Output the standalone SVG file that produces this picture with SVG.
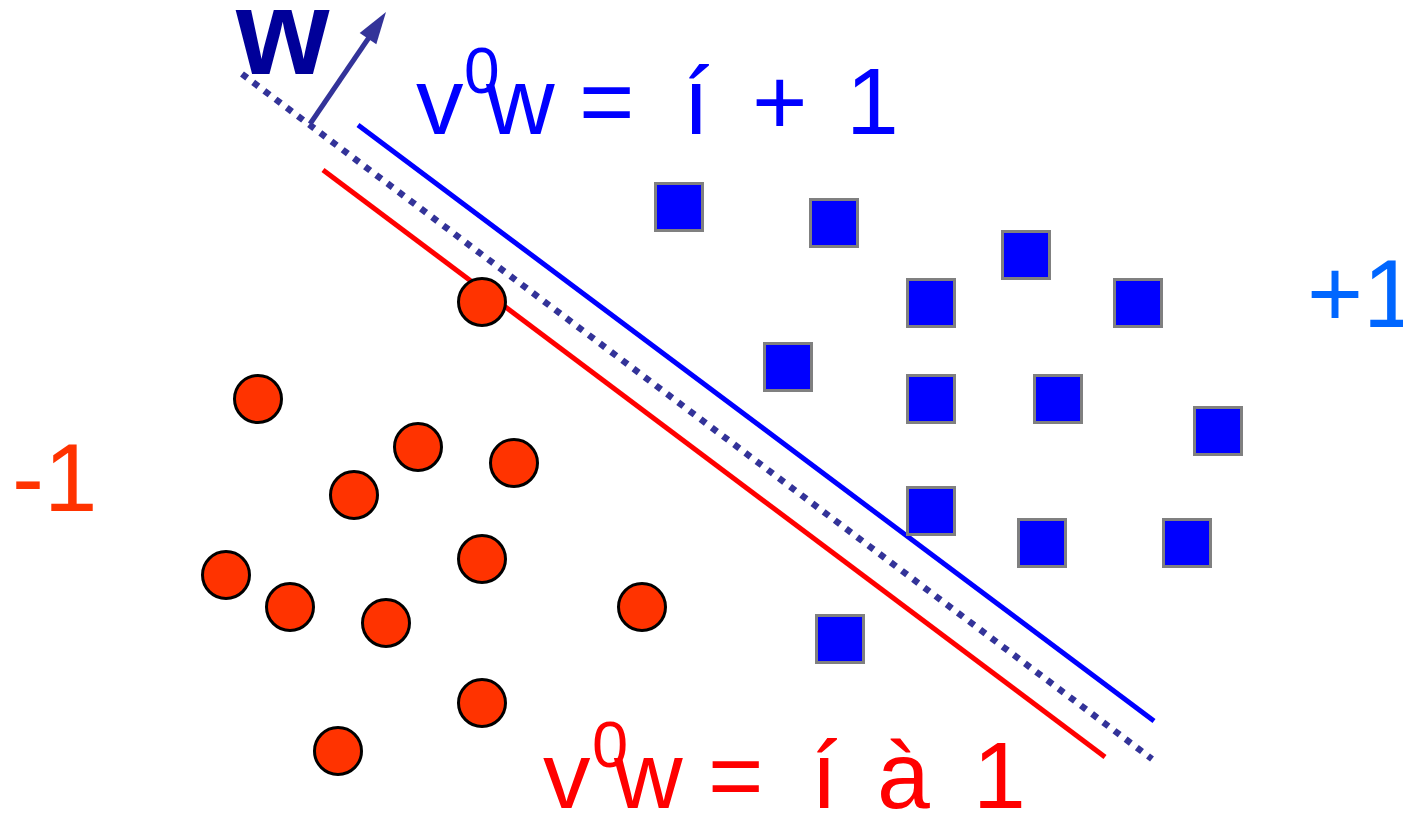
<svg xmlns="http://www.w3.org/2000/svg" width="1403" height="818" viewBox="0 0 1403 818">
<defs>
<style>
.sq{fill:#0000ff;stroke:#808080;stroke-width:3}
.ci{fill:#ff3300;stroke:#000;stroke-width:3}
.t{font-family:"Liberation Sans",Arial,sans-serif}
</style>
</defs>
<rect width="1403" height="818" fill="#fff"/>
<g id="connectors">
<line x1="242" y1="74" x2="1152" y2="759" stroke="#333399" stroke-width="6.5" stroke-dasharray="6.5 7.5"/>
<line x1="358" y1="125" x2="1154" y2="721" stroke="#0000ff" stroke-width="5"/>
<line x1="323" y1="170" x2="1105" y2="757" stroke="#ff0000" stroke-width="5"/>
<g id="w-arrow">
<line x1="310" y1="124" x2="370" y2="36" stroke="#333399" stroke-width="5"/>
<path d="M386,12 L376.3,44.2 L359.7,33 Z" fill="#333399"/>
</g>
</g>
<g id="label-w"><text class="t" x="236" y="74" font-size="120" font-weight="bold" fill="#000099">w</text></g>
<g id="label-plus">
<text class="t" font-size="95" fill="#0000ff"><tspan x="416" y="134">v</tspan><tspan x="486" y="134">w</tspan><tspan x="579" y="134">=</tspan><tspan x="683" y="134">í</tspan><tspan x="752" y="134">+</tspan><tspan x="846" y="134">1</tspan></text>
<text class="t" font-size="64" fill="#0000ff" x="464" y="93">0</text>
</g>
<g id="label-minus">
<text class="t" font-size="95" fill="#ff0000"><tspan x="543" y="808">v</tspan><tspan x="614" y="808">w</tspan><tspan x="708" y="808">=</tspan><tspan x="811" y="808">í</tspan><tspan x="877" y="808">à</tspan><tspan x="973" y="808">1</tspan></text>
<text class="t" font-size="65" fill="#ff0000" x="592" y="767">0</text>
</g>
<g id="label-pos"><text class="t" x="1307" y="327" font-size="96" fill="#0066ff">+1</text></g>
<g id="label-neg"><text class="t" x="12" y="511" font-size="96" fill="#ff3300">-1</text></g>
<g id="positives">
<rect class="sq" x="655.5" y="183.5" width="47" height="47"/>
<rect class="sq" x="810.5" y="199.5" width="47" height="47"/>
<rect class="sq" x="1002.5" y="231.5" width="47" height="47"/>
<rect class="sq" x="907.5" y="279.5" width="47" height="47"/>
<rect class="sq" x="1114.5" y="279.5" width="47" height="47"/>
<rect class="sq" x="764.5" y="343.5" width="47" height="47"/>
<rect class="sq" x="907.5" y="375.5" width="47" height="47"/>
<rect class="sq" x="1034.5" y="375.5" width="47" height="47"/>
<rect class="sq" x="1194.5" y="407.5" width="47" height="47"/>
<rect class="sq" x="907.5" y="487.5" width="47" height="47"/>
<rect class="sq" x="1018.5" y="519.5" width="47" height="47"/>
<rect class="sq" x="1163.5" y="519.5" width="47" height="47"/>
<rect class="sq" x="816.5" y="615.5" width="47" height="47"/>
</g>
<g id="negatives">
<circle class="ci" cx="482" cy="302" r="23.5"/>
<circle class="ci" cx="258" cy="399" r="23.5"/>
<circle class="ci" cx="418" cy="447" r="23.5"/>
<circle class="ci" cx="514" cy="463" r="23.5"/>
<circle class="ci" cx="354" cy="495" r="23.5"/>
<circle class="ci" cx="482" cy="559" r="23.5"/>
<circle class="ci" cx="226" cy="575" r="23.5"/>
<circle class="ci" cx="290" cy="607" r="23.5"/>
<circle class="ci" cx="386" cy="623" r="23.5"/>
<circle class="ci" cx="642" cy="607" r="23.5"/>
<circle class="ci" cx="482" cy="703" r="23.5"/>
<circle class="ci" cx="338" cy="751" r="23.5"/>
</g>
</svg>
